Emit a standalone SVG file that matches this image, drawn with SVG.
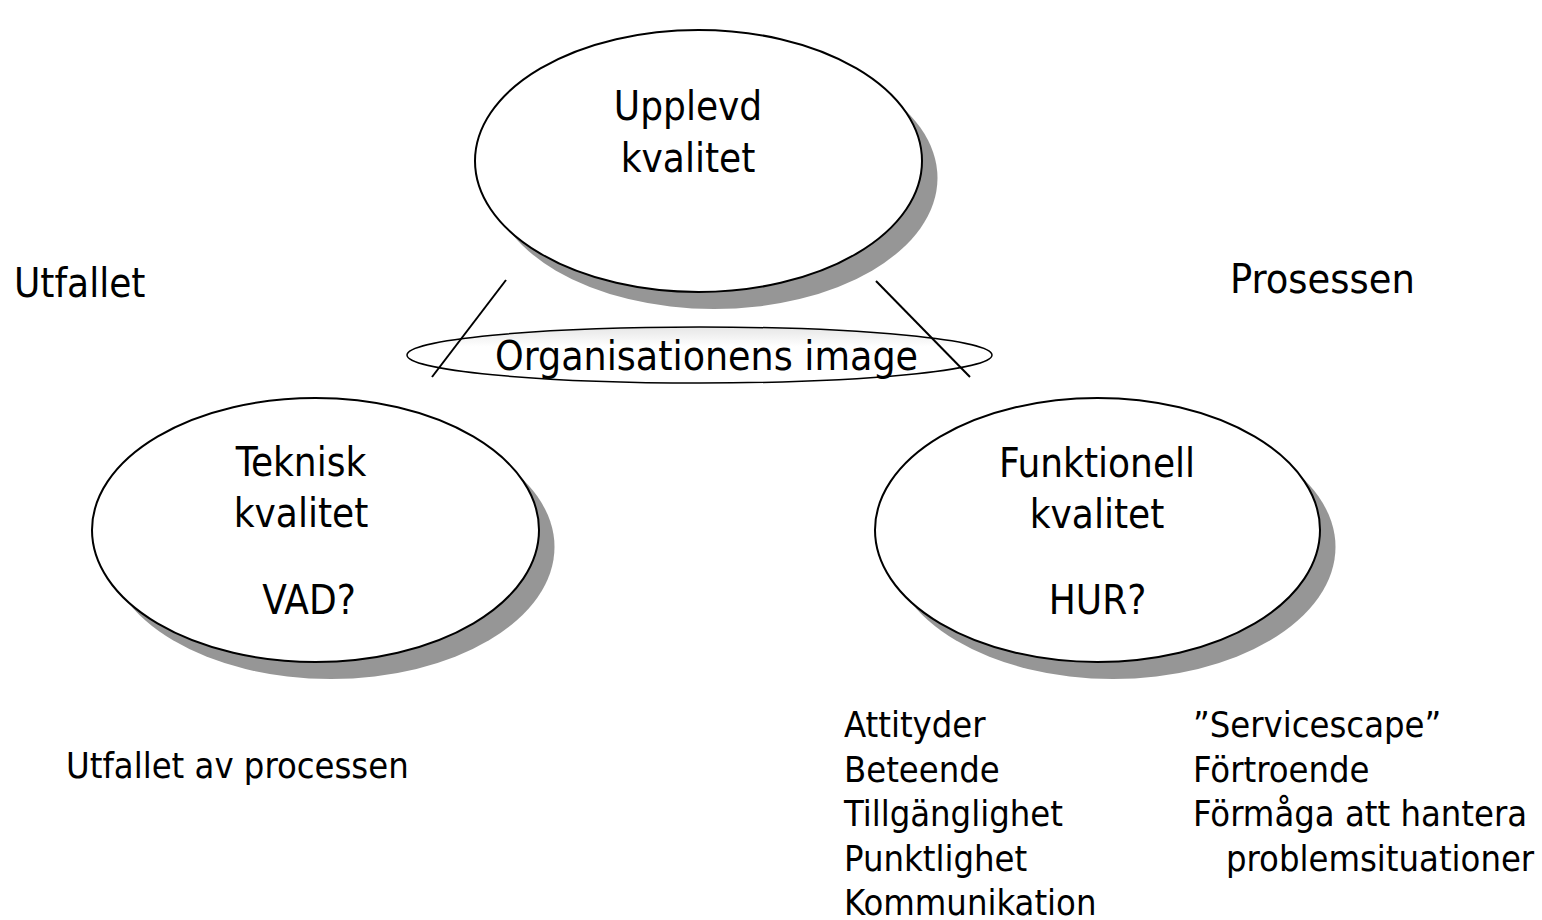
<svg xmlns="http://www.w3.org/2000/svg" width="1542" height="920" viewBox="0 0 1542 920">
<defs>
<linearGradient id="g1" x1="0" y1="0" x2="0" y2="1">
<stop offset="0" stop-color="#e6e6e6"/>
<stop offset="0.35" stop-color="#ffffff"/>
<stop offset="1" stop-color="#ffffff"/>
</linearGradient>
</defs>
<style>
.t{font-family:"DejaVu Sans Condensed","DejaVu Sans",sans-serif;font-stretch:condensed;fill:#000}
.big{font-size:40px}
.mid{font-size:36px}
.ell{fill:#fff;stroke:#000;stroke-width:2}
.sh{fill:#969696}
.ln{stroke:#000;stroke-width:2;fill:none}
</style>
<rect width="1542" height="920" fill="#fff"/>
<g id="upplevd">
<ellipse class="sh" cx="714" cy="178" rx="223.5" ry="131"/>
<ellipse class="ell" cx="698.5" cy="161" rx="223.5" ry="131"/>
<text class="t big" x="688" y="120" text-anchor="middle">Upplevd</text>
<text class="t big" x="688" y="172" text-anchor="middle">kvalitet</text>
</g>
<g id="teknisk">
<ellipse class="sh" cx="331" cy="547" rx="223.5" ry="132"/>
<ellipse class="ell" cx="315.5" cy="530" rx="223.5" ry="132"/>
<text class="t big" x="301" y="476" text-anchor="middle">Teknisk</text>
<text class="t big" x="301" y="527" text-anchor="middle">kvalitet</text>
<text class="t big" x="309" y="614" text-anchor="middle">VAD?</text>
</g>
<g id="funktionell">
<ellipse class="sh" cx="1113" cy="547" rx="222.5" ry="132"/>
<ellipse class="ell" cx="1097.5" cy="530" rx="222.5" ry="132"/>
<text class="t big" x="1097" y="477" text-anchor="middle">Funktionell</text>
<text class="t big" x="1097" y="528" text-anchor="middle">kvalitet</text>
<text class="t big" x="1097.5" y="614" text-anchor="middle">HUR?</text>
</g>
<g id="image">
<ellipse cx="699.5" cy="355" rx="292.5" ry="28" fill="url(#g1)" stroke="#000" stroke-width="1.5"/>
<text class="t" font-size="40.6" x="706.5" y="370" text-anchor="middle">Organisationens image</text>
</g>
<g id="connectors">
<line class="ln" x1="506" y1="280" x2="432" y2="377"/>
<line class="ln" x1="876" y1="281" x2="970" y2="377"/>
</g>
<g id="labels">
<text class="t big" x="14" y="297">Utfallet</text>
<text class="t" font-size="41" x="1230" y="293">Prosessen</text>
<text class="t mid" x="66" y="778">Utfallet av processen</text>
</g>
<g id="list-left">
<text class="t mid" x="844" y="737">Attityder</text>
<text class="t mid" x="844" y="782">Beteende</text>
<text class="t mid" x="844" y="826">Tillgänglighet</text>
<text class="t mid" x="844" y="871">Punktlighet</text>
<text class="t mid" x="844" y="915">Kommunikation</text>
</g>
<g id="list-right">
<text class="t mid" x="1193" y="737">”Servicescape”</text>
<text class="t mid" x="1193" y="782">Förtroende</text>
<text class="t mid" x="1193" y="826">Förmåga att hantera</text>
<text class="t mid" x="1226" y="871">problemsituationer</text>
</g>
</svg>
